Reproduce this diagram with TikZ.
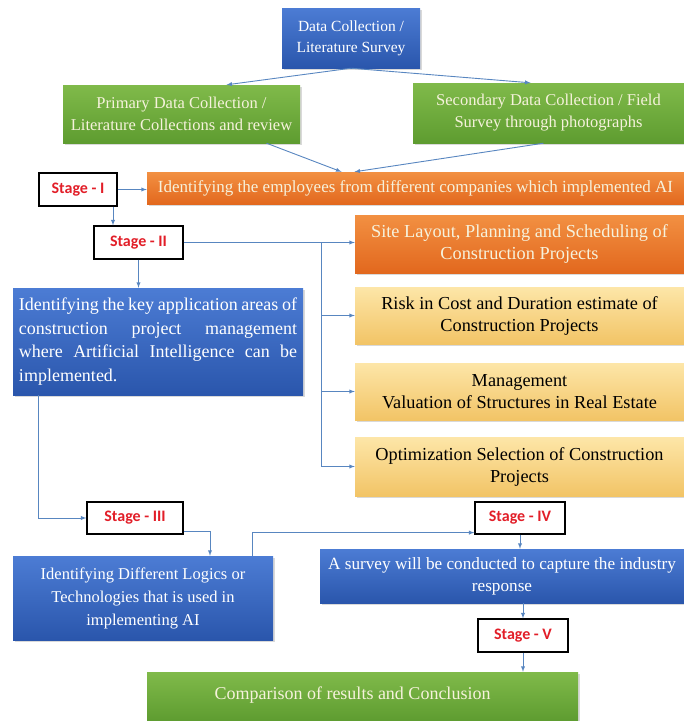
\documentclass[tikz,border=0pt]{standalone}
\usepackage{fontspec}
\setmainfont{Liberation Serif}
\newfontfamily\stagefont{Carlito}
\usepackage{xcolor}
\usepackage{tikz}
\usetikzlibrary{calc,shadows}

\definecolor{blueTop}{RGB}{76,124,212}
\definecolor{blueBot}{RGB}{42,86,172}
\definecolor{greenTop}{RGB}{128,186,74}
\definecolor{greenBot}{RGB}{94,156,48}
\definecolor{orangeTop}{RGB}{242,144,66}
\definecolor{orangeBot}{RGB}{226,104,30}
\definecolor{yellowTop}{RGB}{253,230,168}
\definecolor{yellowBot}{RGB}{242,196,102}
\definecolor{creamText}{RGB}{246,242,220}
\definecolor{stageRed}{RGB}{226,30,40}
\definecolor{linkBlue}{RGB}{88,134,192}

\tikzset{
  box/.style={rectangle, inner sep=2pt, align=center,
    font=\fontsize{16.5}{22}\selectfont,
    drop shadow={opacity=0.3,shadow xshift=1.5pt,shadow yshift=-1.5pt}},
  bluebox/.style={box, top color=blueTop, bottom color=blueBot, text=white},
  greenbox/.style={box, top color=greenTop, bottom color=greenBot, text=creamText},
  orangebox/.style={box, top color=orangeTop, bottom color=orangeBot, text=creamText},
  yellowbox/.style={box, top color=yellowTop, bottom color=yellowBot, text=black},
  rightbox/.style={minimum width=329pt, font=\fontsize{18.3}{22}\selectfont},
  stagebox/.style={rectangle, draw=black, line width=1.2pt, fill=white, inner sep=1pt,
    text=stageRed, font=\stagefont\bfseries\fontsize{16}{18}\selectfont},
  flow/.style={draw=linkBlue, line width=0.9pt, ->, >=latex},
}

\begin{document}
\begin{tikzpicture}[x=1pt,y=-1pt]
			\useasboundingbox (0,0) rectangle (684,721);
			% boxes
			\node[bluebox,minimum width=138pt,minimum height=60pt,font=\fontsize{15.5}{21}\selectfont] (data) at (351,38) {Data Collection /\\Literature Survey};
			\node[greenbox,minimum width=237pt,minimum height=58pt] (prim) at (181.5,114) {Primary Data Collection /\\Literature Collections and review};
			\node[greenbox,minimum width=271pt,minimum height=60pt] (sec) at (548.5,113) {Secondary Data Collection / Field\\Survey through photographs};
			\node[orangebox,minimum width=537pt,minimum height=32pt,font=\fontsize{17}{20}\selectfont] (emp) at (415.5,188) {Identifying the employees from different companies which implemented AI};
			\node[orangebox,rightbox,minimum height=58pt] (site) at (519.5,244) {Site Layout, Planning and Scheduling of\\Construction Projects};
			\node[yellowbox,rightbox,minimum height=57pt] (risk) at (519.5,315.5) {Risk in Cost and Duration estimate of\\Construction Projects};
			\node[yellowbox,rightbox,minimum height=57pt] (mgmt) at (519.5,391.5) {Management\\Valuation of Structures in Real Estate};
			\node[yellowbox,rightbox,minimum height=59pt] (opt) at (519.5,466.5) {Optimization Selection of Construction\\Projects};
			\node[bluebox,minimum width=290pt,minimum height=107pt,align=left,font=\fontsize{18}{23.5}\selectfont] (key) at (158,341.5) {%
				\makebox[278pt][s]{Identifying the key application areas of}\\
				\makebox[278pt][s]{construction project management}\\
				\makebox[278pt][s]{where Artificial Intelligence can be}\\
				implemented.};
			\node[bluebox,minimum width=260pt,minimum height=84pt,font=\fontsize{16.5}{23}\selectfont] (logic) at (143,598) {Identifying Different Logics or\\Technologies that is used in\\implementing AI};
			\node[bluebox,minimum width=364pt,minimum height=54pt,font=\fontsize{17.2}{22}\selectfont] (survey) at (502,576) {A survey will be conducted to capture the industry\\response};
			\node[greenbox,minimum width=431pt,minimum height=49pt,font=\fontsize{18}{20}\selectfont] (concl) at (362.5,696.5) {\raisebox{7pt}{Comparison of results and Conclusion}\hspace*{20pt}};
			% stages
			\node[stagebox,minimum width=78pt,minimum height=33pt] (st1) at (78,189.5) {Stage - I};
			\node[stagebox,minimum width=89pt,minimum height=33pt] (st2) at (138.5,242.5) {Stage - II};
			\node[stagebox,minimum width=96pt,minimum height=32pt] (st3) at (135,518) {Stage - III};
			\node[stagebox,minimum width=90pt,minimum height=32pt] (st4) at (520,518) {Stage - IV};
			\node[stagebox,minimum width=90pt,minimum height=33pt] (st5) at (523,635.5) {Stage - V};
			% connectors
			\draw[flow] (data.south) -- ([xshift=45pt]prim.north);
			\draw[flow] (data.south) -- ([xshift=-18pt]sec.north);
			\draw[flow] ([xshift=85pt]prim.south) -- ([xshift=-74pt]emp.north);
			\draw[flow] ([xshift=-5pt]sec.south) -- ([xshift=-61pt]emp.north);
			\draw[flow] (st1.east) -- (st1.east -| emp.west);
			\draw[flow] ([xshift=35pt]st1.south) -- ([xshift=35pt]st1.south |- st2.north);
			\draw[flow] (st2.east) -- (st2.east -| site.west);
			\coordinate (trunk) at (321,242.5);
			\foreach \b in {risk,mgmt,opt}{
				\draw[flow] (trunk) |- (\b.west);
			}
			\draw[flow] (st2.south) -- (st2.south |- key.north);
			\draw[flow] ([xshift=26pt]key.south west) |- (st3.west);
			\draw[flow] ([yshift=3pt]st3.south east) -| ([xshift=67pt]logic.north);
			\draw[flow] ([xshift=109pt]logic.north) |- ([yshift=2pt]st4.south west);
			\draw[flow] (st4.south) -- (st4.south |- survey.north);
			\draw[flow] (st5.north |- survey.south) -- (st5.north);
			\draw[flow] (st5.south) -- (st5.south |- concl.north);
		\end{tikzpicture}
\end{document}
